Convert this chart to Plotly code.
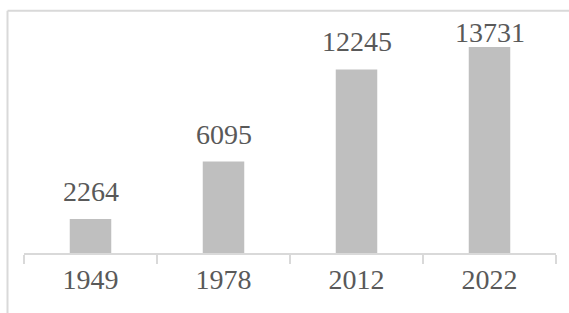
import plotly.graph_objects as go

years = ["1949", "1978", "2012", "2022"]
values = [2264, 6095, 12245, 13731]

BAR_COLOR = "#bfbfbf"
TEXT_COLOR = "#595959"
LINE_COLOR = "#d9d9d9"
FONT = "Liberation Serif"
FS = 28

Y_MAX = 15540

fig = go.Figure()
fig.add_trace(go.Bar(
    x=years, y=values,
    marker=dict(color=BAR_COLOR, line=dict(width=0)),
    hoverinfo="skip",
))

# data labels above bars (kept inside plot area like the original)
annotations = []
for i, v in enumerate(values):
    if v > Y_MAX * 0.85:
        annotations.append(dict(x=i, y=1, xref="x", yref="paper", text=str(v),
                                showarrow=False, yanchor="top", yshift=5,
                                font=dict(family=FONT, size=FS, color=TEXT_COLOR)))
    else:
        annotations.append(dict(x=i, y=v, xref="x", yref="y", text=str(v),
                                showarrow=False, yanchor="bottom", yshift=10,
                                font=dict(family=FONT, size=FS, color=TEXT_COLOR)))

fig.update_layout(
    width=569, height=313,
    margin=dict(l=24, r=13, t=20, b=60),
    paper_bgcolor="white", plot_bgcolor="white",
    bargap=0.688,
    showlegend=False,
    annotations=annotations,
    shapes=[
        dict(type="line", xref="paper", yref="paper", x0=-0.031, x1=1.1, y0=1.04, y1=1.04,
             line=dict(color=LINE_COLOR, width=2)),
        dict(type="line", xref="paper", yref="paper", x0=-0.031, x1=-0.031, y0=1.04, y1=-0.4,
             line=dict(color=LINE_COLOR, width=2)),
    ],
    xaxis=dict(
        type="category", range=[-0.5, len(years) - 0.5],
        categoryorder="array", categoryarray=years,
        showline=True, linecolor=LINE_COLOR, linewidth=2,
        ticks="outside", tickson="boundaries", ticklen=9, tickcolor=LINE_COLOR, tickwidth=2,
        tickfont=dict(family=FONT, size=FS, color=TEXT_COLOR),
        showgrid=False, zeroline=False,
    ),
    yaxis=dict(range=[0, Y_MAX], visible=False, showgrid=False, zeroline=False),
)

fig.write_html("out.html",
               config={"displayModeBar": False, "staticPlot": True},
               post_script="document.body.style.margin='0';document.body.style.overflow='hidden';")
